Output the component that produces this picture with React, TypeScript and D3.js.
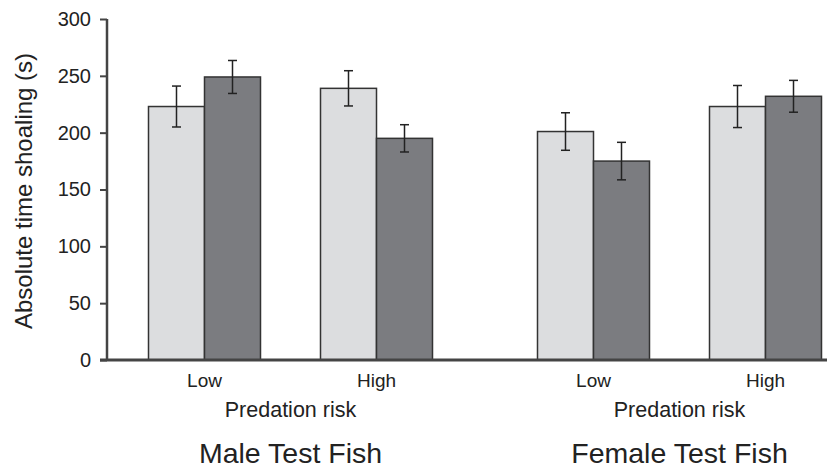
import React, { useRef, useEffect } from 'react';
import * as d3 from 'd3';

const sexes = ['Male Test Fish', 'Female Test Fish'];
const risks = ['Low', 'High'];
const yTicks = [0, 50, 100, 150, 200, 250, 300];

// [sex][risk] means and standard errors
const lightMeans = [[223, 239], [201, 223]];
const lightErr = [[18, 15.5], [16.5, 18.5]];
const darkMeans = [[249, 195], [175, 232]];
const darkErr = [[14.5, 12], [16.5, 14]];

const App = () => {
  const svgRef = useRef<SVGSVGElement>(null);
  const width = 827;
  const height = 469;

  useEffect(() => {
    const svg = d3.select(svgRef.current);
    svg.selectAll('*').remove();

    const font = '"Liberation Sans", Arial, sans-serif';
    const axisColor = '#444';

    const y = d3.scaleLinear().domain([0, 300]).range([360, 19]);
    const xSex = d3.scaleBand().domain(sexes).range([96, 874]).padding(0);
    const xRisk = d3.scaleBand().domain(risks).range([0, xSex.bandwidth()]).paddingOuter(0.1308).paddingInner(0);
    const barW = 56;

    const rows: any[] = [];
    sexes.forEach((s, i) => {
      risks.forEach((r, j) => {
        const cx = (xSex(s) as number) + (xRisk(r) as number) + xRisk.bandwidth() / 2;
        rows.push({ x: cx - barW, v: lightMeans[i][j], e: lightErr[i][j], fill: '#dcdddf' });
        rows.push({ x: cx, v: darkMeans[i][j], e: darkErr[i][j], fill: '#7b7c80' });
      });
    });

    // bars
    svg.append('g').selectAll('rect')
      .data(rows)
      .enter()
      .append('rect')
      .attr('x', d => d.x)
      .attr('y', d => y(d.v))
      .attr('width', barW)
      .attr('height', d => y(0) - y(d.v))
      .attr('fill', d => d.fill)
      .attr('stroke', '#333')
      .attr('stroke-width', 1.5);

    // error bars
    const eb = svg.append('g').attr('stroke', '#222').attr('stroke-width', 1.5);
    rows.forEach(d => {
      const cx = d.x + barW / 2;
      eb.append('line').attr('x1', cx).attr('x2', cx).attr('y1', y(d.v + d.e)).attr('y2', y(d.v - d.e));
      [d.v + d.e, d.v - d.e].forEach(v => {
        eb.append('line').attr('x1', cx - 4.5).attr('x2', cx + 4.5).attr('y1', y(v)).attr('y2', y(v));
      });
    });

    // y axis
    const yAxis = svg.append('g')
      .attr('transform', 'translate(107,0)')
      .call(d3.axisLeft(y).tickValues(yTicks).tickSize(7).tickPadding(9));
    yAxis.select('.domain').attr('stroke', axisColor).attr('stroke-width', 2.5).attr('d', `M0,${y(300)}V${y(0)}`);
    yAxis.selectAll('.tick line').attr('stroke', axisColor).attr('stroke-width', 2);
    yAxis.selectAll('.tick text')
      .attr('fill', '#222')
      .style('font-family', font)
      .style('font-size', '20px');

    // x axis baseline
    svg.append('line')
      .attr('x1', 100).attr('x2', width)
      .attr('y1', y(0)).attr('y2', y(0))
      .attr('stroke', axisColor).attr('stroke-width', 3);

    // category labels
    const labels = svg.append('g').style('font-family', font).attr('fill', '#222').attr('text-anchor', 'middle');
    sexes.forEach(s => {
      const x0 = xSex(s) as number;
      risks.forEach(r => {
        labels.append('text')
          .attr('x', x0 + (xRisk(r) as number) + xRisk.bandwidth() / 2)
          .attr('y', 387)
          .style('font-size', '19px')
          .text(r);
      });
      labels.append('text')
        .attr('x', x0 + xSex.bandwidth() / 2)
        .attr('y', 417)
        .style('font-size', '21.5px')
        .text('Predation risk');
      labels.append('text')
        .attr('x', x0 + xSex.bandwidth() / 2)
        .attr('y', 463)
        .style('font-size', '28.5px')
        .text(s);
    });

    // y title
    svg.append('text')
      .attr('transform', 'translate(32,191) rotate(-90)')
      .attr('text-anchor', 'middle')
      .attr('fill', '#222')
      .style('font-family', font)
      .style('font-size', '24px')
      .text('Absolute time shoaling (s)');
  }, []);

  return <svg ref={svgRef} width={width} height={height} style={{ position: 'absolute', left: 0, top: 0 }}></svg>;
};

export default App;
